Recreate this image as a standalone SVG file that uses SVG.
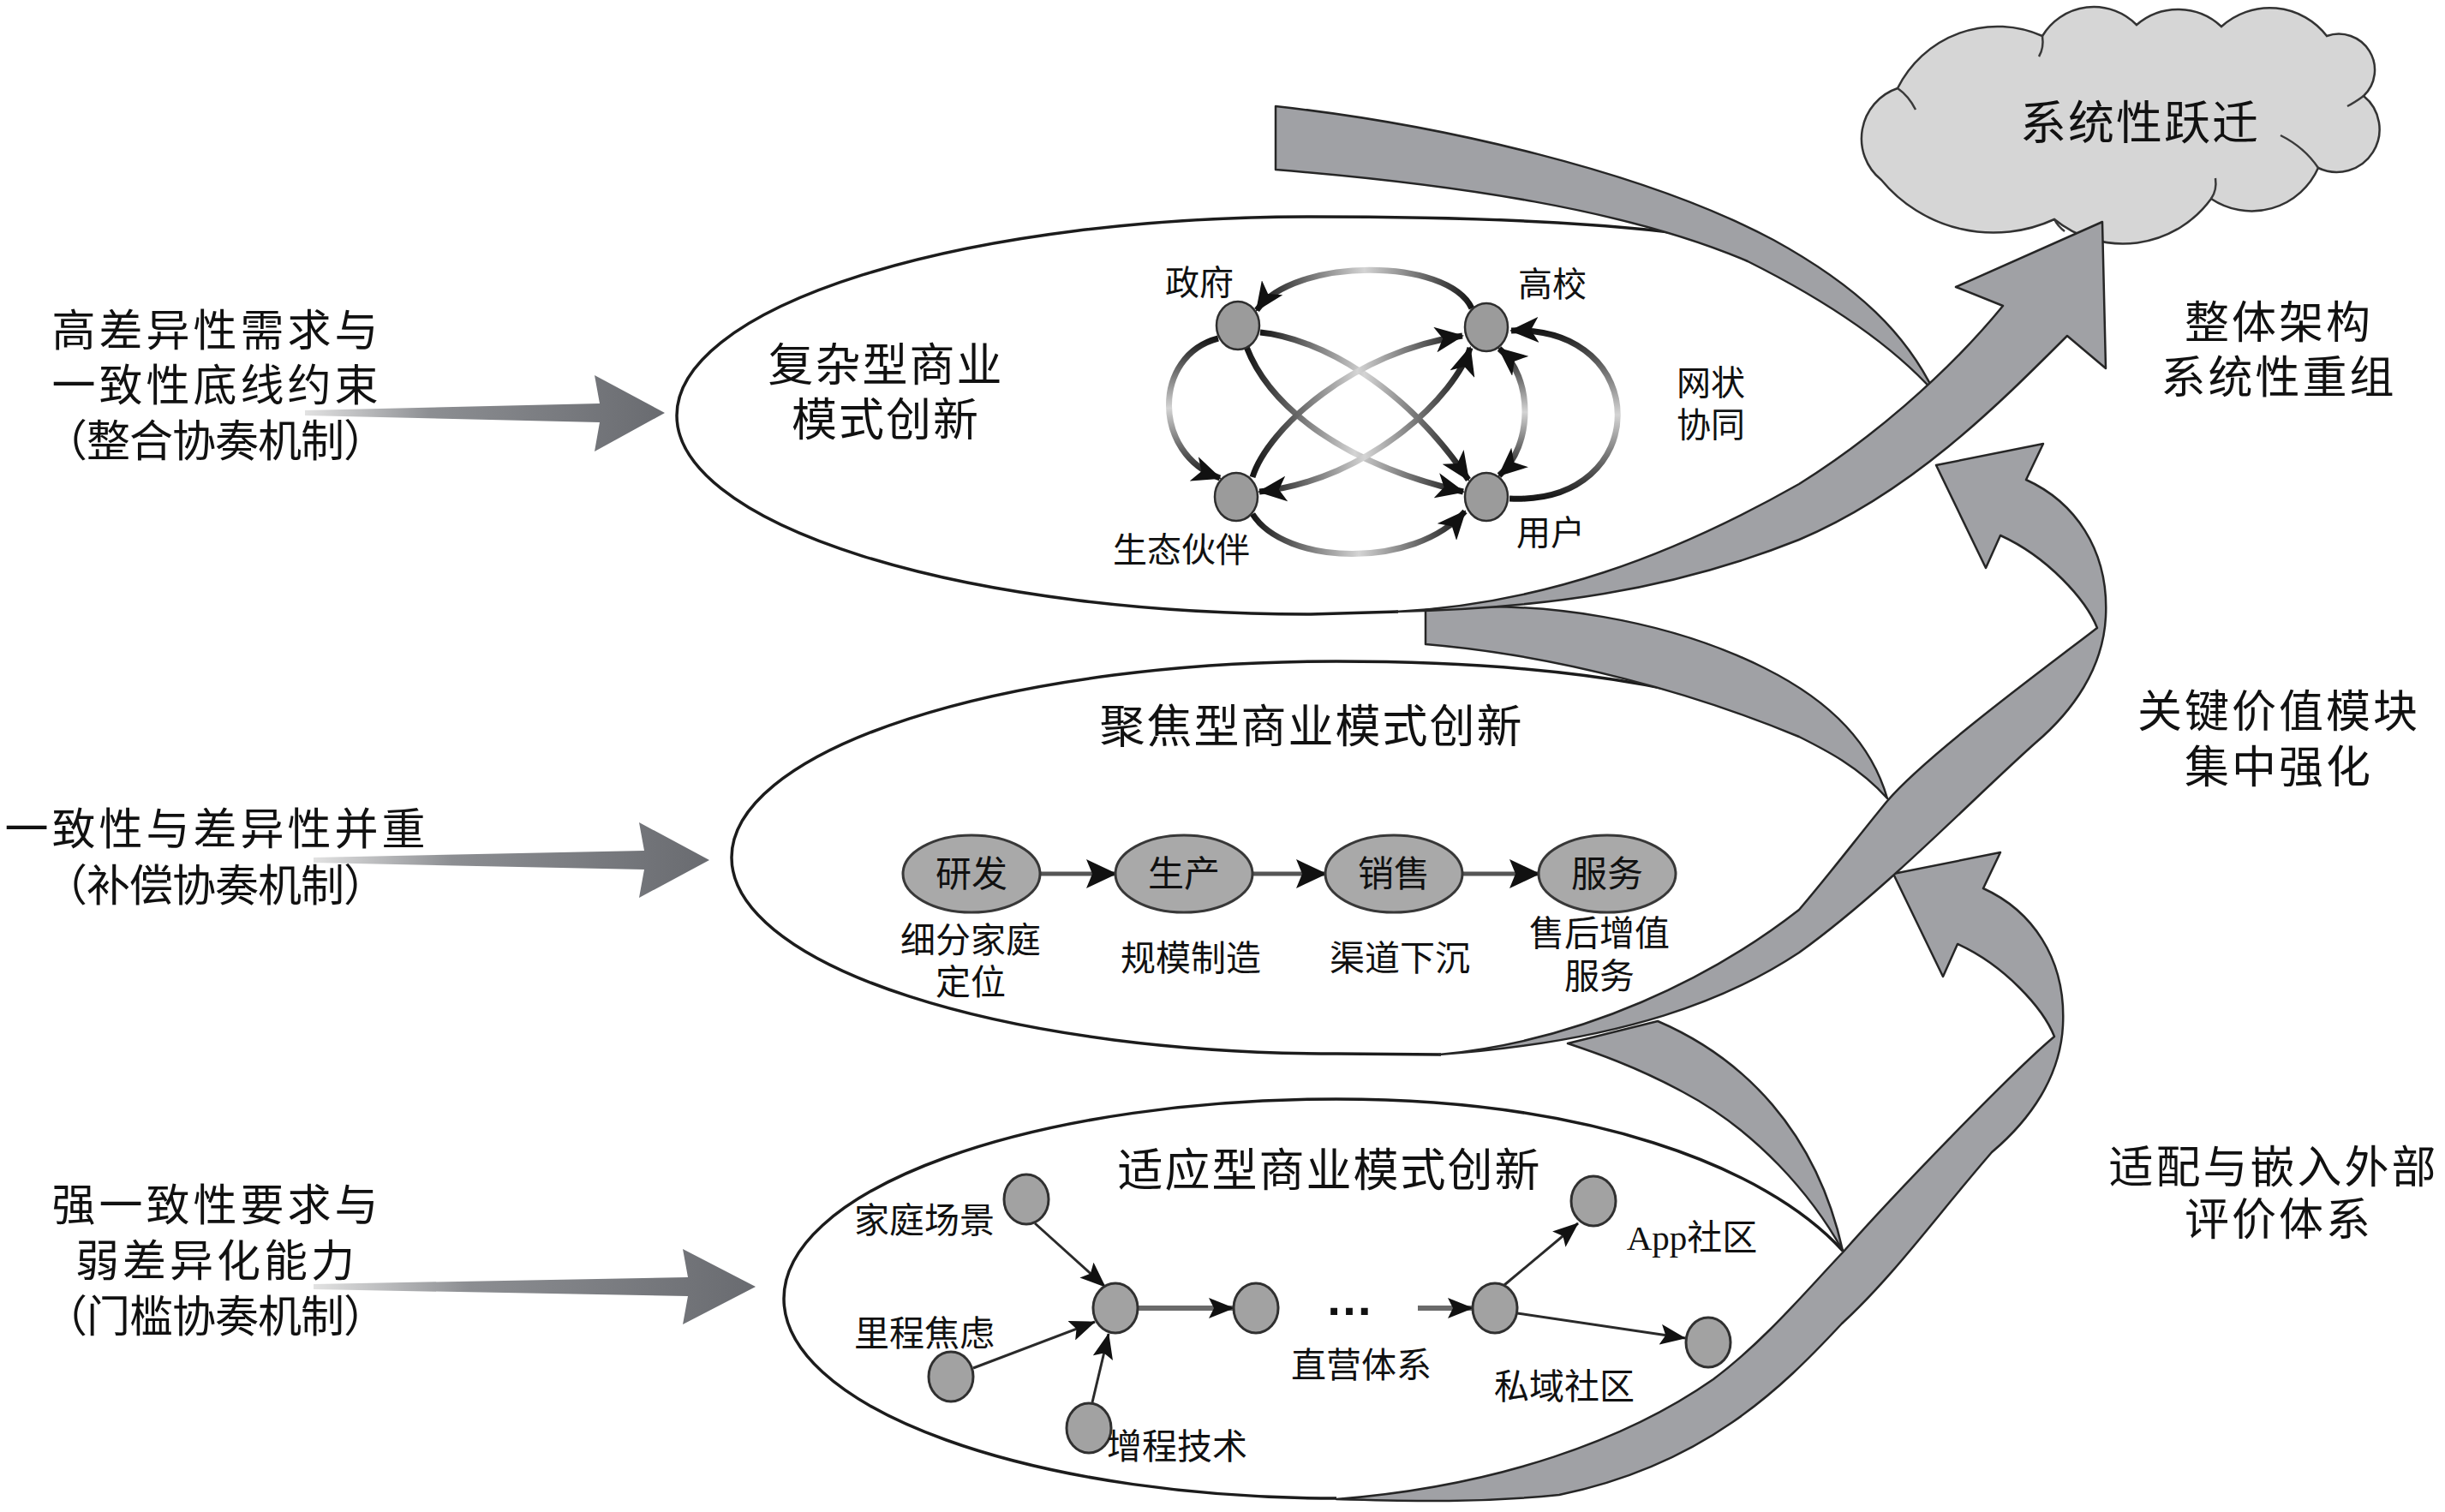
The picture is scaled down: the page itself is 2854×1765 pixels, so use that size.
<svg xmlns="http://www.w3.org/2000/svg" width="2854" height="1765" viewBox="0 0 2854 1765">
<defs>
<style>
.t{font-family:"Noto Sans CJK SC",sans-serif;fill:#111;text-anchor:middle}
.side{font-size:51px;letter-spacing:4px}
.par{letter-spacing:-1px}
.rt{font-size:52px;letter-spacing:3px}
.ttl{font-size:53px;letter-spacing:2px}
.nl{font-size:40px}
.nd{font-size:42px}
.sl{font-size:41px}
.rib{fill:#a0a1a5;stroke:#262626;stroke-width:2.5;stroke-linejoin:round}
.ell{fill:none;stroke:#1c1c1c;stroke-width:3.5}
.netH{fill:none;stroke:url(#gH);stroke-width:7}
.netV{fill:none;stroke:url(#gV);stroke-width:7}
.n1{fill:#9b9b9b;stroke:#2e2e2e;stroke-width:2.5}
.n2{fill:#a9a9a9;stroke:#383838;stroke-width:3}
.n3{fill:#a2a2a2;stroke:#303030;stroke-width:3}
.chain{stroke:#555;stroke-width:5;fill:none}
.thin{stroke:#2a2a2a;stroke-width:3;fill:none}
.thick{stroke:#6a6a6a;stroke-width:6;fill:none}
.big{fill:url(#gArrow)}
.curl{fill:none;stroke:#3a3a3a;stroke-width:2.5}
</style>
<linearGradient id="gH" x1="0" y1="0" x2="1" y2="0">
<stop offset="0" stop-color="#151515"/><stop offset="0.5" stop-color="#d4d4d4"/><stop offset="1" stop-color="#151515"/>
</linearGradient>
<linearGradient id="gV" x1="0" y1="0" x2="0" y2="1">
<stop offset="0" stop-color="#151515"/><stop offset="0.5" stop-color="#d4d4d4"/><stop offset="1" stop-color="#151515"/>
</linearGradient>
<linearGradient id="gArrow" x1="0" y1="0" x2="1" y2="0">
<stop offset="0" stop-color="#e2e2e2"/><stop offset="0.35" stop-color="#8c8e92"/><stop offset="1" stop-color="#696b70"/>
</linearGradient>
<marker id="mN" viewBox="0 0 34 30" refX="32" refY="15" markerWidth="34" markerHeight="30" markerUnits="userSpaceOnUse" orient="auto-start-reverse">
<path d="M0,0 L34,15 L0,30 L9,15 Z" fill="#111"/>
</marker>
<marker id="mC" viewBox="0 0 36 34" refX="34" refY="17" markerWidth="36" markerHeight="34" markerUnits="userSpaceOnUse" orient="auto">
<path d="M0,0 L36,17 L0,34 L7,17 Z" fill="#111"/>
</marker>
<marker id="mT" viewBox="0 0 30 24" refX="29" refY="12" markerWidth="30" markerHeight="24" markerUnits="userSpaceOnUse" orient="auto">
<path d="M0,0 L30,12 L0,24 L6,12 Z" fill="#111"/>
</marker>
</defs>
<rect width="2854" height="1765" fill="#ffffff"/>

<!-- left mechanism labels -->
<g id="mech-integrate">
<text class="t side" x="253" y="404">高差异性需求与<tspan x="253" dy="64">一致性底线约束</tspan><tspan class="par" x="251" dy="65">（整合协奏机制）</tspan></text>
</g>
<g id="mech-compensate">
<text class="t side" x="253" y="986">一致性与差异性并重<tspan class="par" x="251" dy="66">（补偿协奏机制）</tspan></text>
</g>
<g id="mech-threshold">
<text class="t side" x="253" y="1425">强一致性要求与<tspan x="253" dy="65">弱差异化能力</tspan><tspan class="par" x="251" dy="65">（门槛协奏机制）</tspan></text>
</g>

<!-- right labels -->
<g id="label-restructure">
<text class="t rt" x="2660" y="395">整体架构<tspan x="2660" dy="64">系统性重组</tspan></text>
</g>
<g id="label-strengthen">
<text class="t rt" x="2660" y="849">关键价值模块<tspan x="2660" dy="65">集中强化</tspan></text>
</g>
<g id="label-adapt">
<text class="t rt" x="2654" y="1381">适配与嵌入外部<tspan x="2660" dy="61">评价体系</tspan></text>
</g>

<!-- cloud -->
<g id="cloud">
<path d="M2196,210 A62,62 0 0 1 2215,103 A130,130 0 0 1 2384,42 A70,70 0 0 1 2494,29 A74,74 0 0 1 2593,31 A84,84 0 0 1 2716,42 A42,42 0 0 1 2759,112 A50,50 0 0 1 2706,196 A85,85 0 0 1 2581,232 A127,127 0 0 1 2398,256 A170,170 0 0 1 2196,210 Z" fill="#d6d6d6" stroke="#333" stroke-width="2.5"/>
<path class="curl" d="M2215,103 Q2228,112 2236,128"/>
<path class="curl" d="M2384,42 Q2386,56 2380,66"/>
<path class="curl" d="M2759,112 Q2748,120 2740,124"/>
<path class="curl" d="M2706,196 Q2690,172 2662,158"/>
<path class="curl" d="M2581,232 Q2588,222 2586,208"/>
<path class="curl" d="M2398,256 Q2402,264 2410,270"/>
<text class="t" x="2498" y="163" style="font-size:54px;letter-spacing:2px">系统性跃迁</text>
</g>

<!-- input arrows -->
<g id="connectors">
<path class="big" d="M356,479 L700,471 L694,438 L776,482 L694,527 L700,493 L356,485 Z"/>
<path class="big" d="M366,1001 L752,993 L746,960 L828,1004 L746,1048 L752,1015 L366,1007 Z"/>
<path class="big" d="M366,1499 L803,1491 L797,1458 L882,1502 L797,1546 L803,1513 L366,1505 Z"/>
</g>

<!-- ellipse outlines -->
<g id="ellipse-complex-outline">
<path class="ell" d="M2060,290 C1950,262 1750,253 1530,253 A740,232 0 0 0 790,485 A740,232 0 0 0 1530,717 L1632,714"/>
</g>
<g id="ellipse-focus-outline">
<path class="ell" d="M2060,835 C1930,790 1760,772 1560,772 A706,229 0 0 0 854,1001 A706,229 0 0 0 1560,1230 L1682,1231"/>
</g>
<g id="ellipse-adapt-outline">
<path class="ell" d="M2151,1460 C2060,1360 1850,1283 1560,1283 A645,233 0 0 0 915,1516 A645,233 0 0 0 1560,1749"/>
</g>

<!-- ribbons -->
<g id="ribbons">
<path id="flat-top" class="rib" d="M1489,124 C1680,145 1920,200 2070,280 C2170,335 2225,390 2258,458 C2215,410 2150,360 2040,305 C1900,245 1700,215 1489,198 Z"/>
<path id="flat-mid" class="rib" d="M1664,712 C1800,698 1950,725 2060,780 C2140,820 2185,870 2203,932 C2170,895 2130,875 2100,860 C1980,810 1820,765 1664,752 Z"/>
<path id="flat-low" class="rib" d="M1830,1218 L1935,1192 C2035,1235 2120,1320 2151,1460 C2115,1395 2050,1320 1965,1275 C1910,1245 1860,1228 1830,1218 Z"/>
<path id="rise-low" class="rib" d="M1560,1750 C1750,1735 1900,1680 2000,1610 C2060,1565 2110,1505 2151,1462 C2210,1395 2350,1250 2398,1210 C2385,1177 2340,1127 2285,1102 L2268,1140 L2210,1020 L2335,995 L2315,1037 C2370,1062 2412,1117 2408,1197 C2405,1257 2370,1307 2325,1345 C2260,1420 2210,1490 2150,1545 C2080,1620 1990,1710 1820,1745 C1720,1755 1640,1752 1560,1750 Z"/>
<path id="rise-mid" class="rib" d="M1680,1231 C1850,1215 2000,1140 2100,1062 C2140,1015 2170,975 2203,935 C2250,880 2400,770 2448,733 C2435,700 2390,650 2335,625 L2318,663 L2260,543 L2385,518 L2365,560 C2420,585 2462,640 2458,720 C2455,780 2420,830 2375,868 C2300,935 2200,1040 2100,1112 C2020,1165 1900,1215 1680,1231 Z"/>
<path id="rise-top" class="rib" d="M1630,714 C1800,705 1950,650 2100,565 C2180,515 2270,440 2338,357 L2283,335 L2454,259 L2458,430 L2413,392 C2330,475 2230,575 2100,630 C1950,690 1800,710 1630,714 Z"/>
</g>

<!-- complex BMI content -->
<g id="complex-title">
<text class="t ttl" x="1034" y="445">复杂型商业<tspan x="1034" dy="64">模式创新</tspan></text>
</g>
<g id="net-edges">
<path class="netH" d="M1718,360 C1690,300 1510,300 1467,362" marker-end="url(#mN)"/>
<path class="netV" d="M1422,395 C1345,415 1345,530 1424,558" marker-end="url(#mN)"/>
<path class="netH" d="M1462,600 C1500,660 1650,665 1710,597" marker-end="url(#mN)"/>
<path class="netV" d="M1762,582 C1930,590 1930,380 1764,386" marker-end="url(#mN)"/>
<path class="netV" d="M1750,407 C1790,440 1790,520 1750,555" marker-start="url(#mN)" marker-end="url(#mN)"/>
<path class="netH" d="M1471,388 C1540,395 1640,450 1714,560" marker-end="url(#mN)"/>
<path class="netH" d="M1455,405 C1480,470 1560,540 1708,574" marker-end="url(#mN)"/>
<path class="netH" d="M1462,557 C1480,500 1580,410 1707,392" marker-end="url(#mN)"/>
<path class="netH" d="M1716,406 C1700,460 1600,560 1470,574" marker-start="url(#mN)" marker-end="url(#mN)"/>
</g>
<g id="node-gov"><ellipse class="n1" cx="1445" cy="380" rx="25" ry="28"/><text class="t nl" x="1400" y="344">政府</text></g>
<g id="node-univ"><ellipse class="n1" cx="1735" cy="382" rx="25" ry="28"/><text class="t nl" x="1812" y="346">高校</text></g>
<g id="node-eco"><ellipse class="n1" cx="1443" cy="580" rx="25" ry="28"/><text class="t nl" x="1379" y="656">生态伙伴</text></g>
<g id="node-user"><ellipse class="n1" cx="1735" cy="580" rx="25" ry="28"/><text class="t nl" x="1810" y="636">用户</text></g>
<g id="net-label">
<text class="t nl" x="1997" y="461">网状<tspan x="1997" dy="49">协同</tspan></text>
</g>

<!-- focus BMI content -->
<g id="focus-title"><text class="t ttl" x="1531" y="867">聚焦型商业模式创新</text></g>
<g id="chain-edges">
<line class="chain" x1="1214" y1="1020" x2="1302" y2="1020" marker-end="url(#mC)"/>
<line class="chain" x1="1462" y1="1020" x2="1547" y2="1020" marker-end="url(#mC)"/>
<line class="chain" x1="1707" y1="1020" x2="1796" y2="1020" marker-end="url(#mC)"/>
</g>
<g id="node-rd"><ellipse class="n2" cx="1134" cy="1020" rx="80" ry="45"/><text class="t nd" x="1134" y="1035">研发</text>
<text class="t sl" x="1133" y="1112">细分家庭<tspan x="1133" dy="49">定位</tspan></text></g>
<g id="node-prod"><ellipse class="n2" cx="1382" cy="1020" rx="80" ry="45"/><text class="t nd" x="1382" y="1035">生产</text>
<text class="t sl" x="1390" y="1133">规模制造</text></g>
<g id="node-sales"><ellipse class="n2" cx="1627" cy="1020" rx="80" ry="45"/><text class="t nd" x="1627" y="1035">销售</text>
<text class="t sl" x="1634" y="1133">渠道下沉</text></g>
<g id="node-service"><ellipse class="n2" cx="1876" cy="1020" rx="80" ry="45"/><text class="t nd" x="1876" y="1035">服务</text>
<text class="t sl" x="1867" y="1104">售后增值<tspan x="1867" dy="50">服务</tspan></text></g>

<!-- adaptive BMI content -->
<g id="adapt-title"><text class="t ttl" x="1552" y="1385">适应型商业模式创新</text></g>
<g id="adapt-edges">
<line class="thin" x1="1208" y1="1428" x2="1290" y2="1502" marker-end="url(#mT)"/>
<line class="thin" x1="1136" y1="1597" x2="1278" y2="1543" marker-end="url(#mT)"/>
<line class="thin" x1="1275" y1="1637" x2="1294" y2="1557" marker-end="url(#mT)"/>
<line class="thick" x1="1328" y1="1527" x2="1440" y2="1527" marker-end="url(#mT)"/>
<line class="thick" x1="1655" y1="1527" x2="1719" y2="1527" marker-end="url(#mT)"/>
<line class="thin" x1="1756" y1="1500" x2="1842" y2="1428" marker-end="url(#mT)"/>
<line class="thin" x1="1771" y1="1533" x2="1967" y2="1562" marker-end="url(#mT)"/>
</g>
<g id="node-family"><ellipse class="n3" cx="1198" cy="1400" rx="26" ry="29"/><text class="t sl" x="1079" y="1439">家庭场景</text></g>
<g id="node-range"><ellipse class="n3" cx="1110" cy="1607" rx="26" ry="29"/><text class="t sl" x="1079" y="1571">里程焦虑</text></g>
<g id="node-erev"><ellipse class="n3" cx="1271" cy="1667" rx="26" ry="29"/><text class="t sl" x="1374" y="1703">增程技术</text></g>
<g id="node-hub"><ellipse class="n3" cx="1302" cy="1527" rx="26" ry="29"/></g>
<g id="node-direct"><ellipse class="n3" cx="1466" cy="1527" rx="26" ry="29"/><text class="t sl" x="1589" y="1608">直营体系</text></g>
<g id="dots"><text x="1575" y="1535" style="font-family:'Liberation Sans',sans-serif;font-size:56px;font-weight:bold;fill:#111;text-anchor:middle">…</text></g>
<g id="node-private"><ellipse class="n3" cx="1745" cy="1527" rx="26" ry="29"/><text class="t sl" x="1826" y="1633">私域社区</text></g>
<g id="node-app"><ellipse class="n3" cx="1860" cy="1402" rx="26" ry="29"/><text x="1975" y="1459" style="font-family:'Liberation Serif','Noto Sans CJK SC',serif;font-size:41px;fill:#111;text-anchor:middle">App社区</text></g>
<g id="node-community"><ellipse class="n3" cx="1994" cy="1567" rx="26" ry="29"/></g>
</svg>
